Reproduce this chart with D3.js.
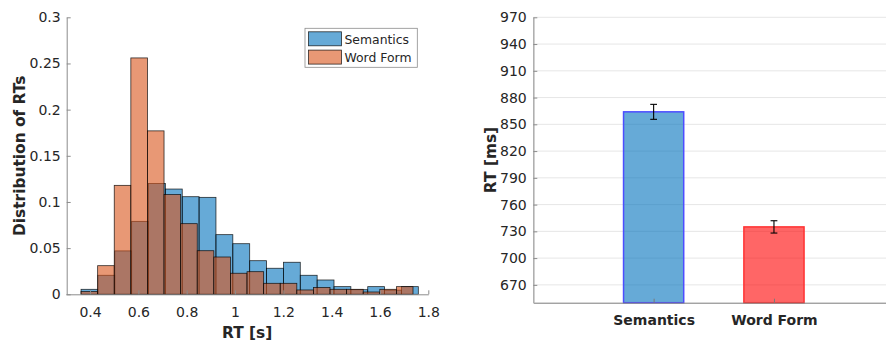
<!DOCTYPE html>
<html>
<head>
<meta charset="utf-8">
<script src="https://cdn.jsdelivr.net/npm/d3@7"></script>
<style>
  body { margin: 0; background: #fff; }
  svg text { font-family: "DejaVu Sans", Verdana, sans-serif; fill: #262626; }
</style>
</head>
<body>
<svg id="fig" width="886" height="343"></svg>
<script>
// ---- Left panel: RT distributions (probability per bin) ----
const semanticsBinStart = 0.3627;
const semanticsBinWidth = 0.0698;
const wordFormBinStart = 0.3627;
const wordFormBinWidth = 0.0687;
const semanticsProb = [0.0054, 0.0206, 0.047, 0.079, 0.120, 0.114, 0.1057, 0.105, 0.0646, 0.0548,
                       0.0364, 0.0282, 0.0347, 0.0206, 0.0155, 0.0083, 0.005, 0.0083, 0.0045, 0.0083];
const wordFormProb = [0.003, 0.031, 0.118, 0.256, 0.177, 0.108, 0.0765, 0.0472, 0.0404, 0.0228,
                      0.0245, 0.0119, 0.0119, 0.0047, 0.0074, 0.0054, 0.0054, 0.0025, 0.0054, 0.0083];
const histSeries = ["Semantics", "Word Form"];
const histXTicks = [0.4, 0.6, 0.8, 1.0, 1.2, 1.4, 1.6, 1.8];
const histYTicks = [0, 0.05, 0.1, 0.15, 0.2, 0.25, 0.3];

// ---- Right panel: mean RT per condition ----
const conditions = ["Semantics", "Word Form"];
const meanRT = [864, 735];
const errRT = [8.4, 6.9];
const rtTicks = [670, 700, 730, 760, 790, 820, 850, 880, 910, 940, 970];

const svg = d3.select("#fig");
const tickFont = 14, labelFont = 15.4, legendFont = 12.4;
const histColors = ["#0072BD", "#D95319"];

// ================= Histogram =================
const hx = d3.scaleLinear().domain([0.3, 1.8]).range([65.9, 428.3]);
const hy = d3.scaleLinear().domain([0, 0.3]).range([294.3, 17.3]);

const histData = [
  { name: histSeries[0], start: semanticsBinStart, width: semanticsBinWidth, p: semanticsProb, color: histColors[0] },
  { name: histSeries[1], start: wordFormBinStart, width: wordFormBinWidth, p: wordFormProb, color: histColors[1] }
];

const hg = svg.append("g");
histData.forEach(s => {
  hg.append("g").selectAll("rect")
    .data(s.p.map((v, i) => ({ x0: s.start + i * s.width, x1: s.start + (i + 1) * s.width, v })))
    .join("rect")
    .attr("x", d => hx(d.x0))
    .attr("width", d => hx(d.x1) - hx(d.x0))
    .attr("y", d => hy(d.v))
    .attr("height", d => hy(0) - hy(d.v))
    .attr("fill", s.color)
    .attr("fill-opacity", 0.6)
    .attr("stroke", "#000")
    .attr("stroke-opacity", 0.8)
    .attr("stroke-width", 0.8);
});

const hxAxis = svg.append("g")
  .attr("transform", `translate(0,${hy(0)})`)
  .call(d3.axisBottom(hx).tickValues(histXTicks).tickFormat(d3.format("~g"))
    .tickSizeInner(-4).tickSizeOuter(0).tickPadding(13));
const hyAxis = svg.append("g")
  .attr("transform", `translate(${hx(0.3) + 0.8},0)`)
  .call(d3.axisLeft(hy).tickValues(histYTicks).tickFormat(d3.format("~g"))
    .tickSizeInner(-4).tickSizeOuter(0).tickPadding(6));
[hxAxis, hyAxis].forEach(a => {
  a.select(".domain").attr("stroke", "#8c8c8c");
  a.selectAll(".tick line").attr("stroke", "#8c8c8c");
  a.selectAll(".tick text").attr("font-size", tickFont).attr("fill", "#262626")
    .style("font-family", '"DejaVu Sans", Verdana, sans-serif');
});

svg.append("text")
  .attr("x", (hx.range()[0] + hx.range()[1]) / 2).attr("y", 338.3)
  .attr("text-anchor", "middle").attr("font-size", labelFont).attr("font-weight", "bold")
  .text("RT [s]");
svg.append("text")
  .attr("transform", `translate(25,${(hy(0) + hy(0.3)) / 2}) rotate(-90)`)
  .attr("text-anchor", "middle").attr("font-size", labelFont).attr("font-weight", "bold")
  .text("Distribution of RTs");

// legend
const lg = svg.append("g").attr("transform", "translate(305,28.3)");
lg.append("rect").attr("width", 112.3).attr("height", 39)
  .attr("fill", "#fff").attr("stroke", "#8c8c8c").attr("stroke-width", 0.8);
histData.forEach((s, i) => {
  const row = lg.append("g").attr("transform", `translate(3.5,${3.5 + i * 18.3})`);
  row.append("rect").attr("width", 33).attr("height", 14)
    .attr("fill", s.color).attr("fill-opacity", 0.6)
    .attr("stroke", "#000").attr("stroke-opacity", 0.8).attr("stroke-width", 0.8);
  row.append("text").attr("x", 36).attr("y", 11.8)
    .attr("font-size", legendFont).text(s.name);
});

// ================= Bar chart =================
const bx = d3.scaleLinear().domain([0, 3]).range([533.3, 894.3]);
const by = d3.scaleLinear().domain([650, 970]).range([302.7, 17.3]);
const barHalf = 0.25;
const barFill = ["#0072BD", "#FF0000"];
const barEdge = ["#4d4dff", "#ff3333"];

// grid
svg.append("g").selectAll("line").data(rtTicks).join("line")
  .attr("x1", bx(0)).attr("x2", 886)
  .attr("y1", d => by(d)).attr("y2", d => by(d))
  .attr("stroke", "#e6e6e6").attr("stroke-width", 1);

const bars = svg.append("g");
conditions.forEach((c, i) => {
  const xc = i + 1;
  bars.append("rect")
    .attr("x", bx(xc - barHalf)).attr("width", bx(xc + barHalf) - bx(xc - barHalf))
    .attr("y", by(meanRT[i])).attr("height", by(650) - by(meanRT[i]))
    .attr("fill", barFill[i]).attr("fill-opacity", 0.6)
    .attr("stroke", barEdge[i]).attr("stroke-width", 1.5);
  // error bar
  const eb = bars.append("g").attr("stroke", "#000").attr("stroke-width", 1.1);
  eb.append("line").attr("x1", bx(xc)).attr("x2", bx(xc))
    .attr("y1", by(meanRT[i] - errRT[i])).attr("y2", by(meanRT[i] + errRT[i]));
  [meanRT[i] - errRT[i], meanRT[i] + errRT[i]].forEach(v => {
    eb.append("line").attr("x1", bx(xc) - 3.4).attr("x2", bx(xc) + 3.4)
      .attr("y1", by(v)).attr("y2", by(v));
  });
});

const bxAxis = svg.append("g")
  .attr("transform", `translate(0,${by(650)})`)
  .call(d3.axisBottom(bx).tickValues([1, 2]).tickFormat(d => conditions[d - 1])
    .tickSizeInner(-4).tickSizeOuter(0).tickPadding(12.5));
bxAxis.select(".domain").attr("stroke", "#7a7a7a");
bxAxis.selectAll(".tick line").attr("stroke", "#7a7a7a");
bxAxis.selectAll(".tick text").attr("font-size", tickFont).attr("font-weight", "bold")
  .attr("fill", "#262626").style("font-family", '"DejaVu Sans", Verdana, sans-serif');

const byAxis = svg.append("g")
  .attr("transform", `translate(${bx(0)},0)`)
  .call(d3.axisLeft(by).tickValues(rtTicks)
    .tickSizeInner(-4).tickSizeOuter(0).tickPadding(6.6));
byAxis.select(".domain").attr("stroke", "#b0b0b0").attr("stroke-width", 1.6);
byAxis.selectAll(".tick line").attr("stroke", "#8c8c8c");
byAxis.selectAll(".tick text").attr("font-size", tickFont).attr("fill", "#262626")
  .style("font-family", '"DejaVu Sans", Verdana, sans-serif');

svg.append("text")
  .attr("transform", `translate(495.5,${(by(650) + by(970)) / 2}) rotate(-90)`)
  .attr("text-anchor", "middle").attr("font-size", labelFont).attr("font-weight", "bold")
  .text("RT [ms]");
</script>
</body>
</html>
